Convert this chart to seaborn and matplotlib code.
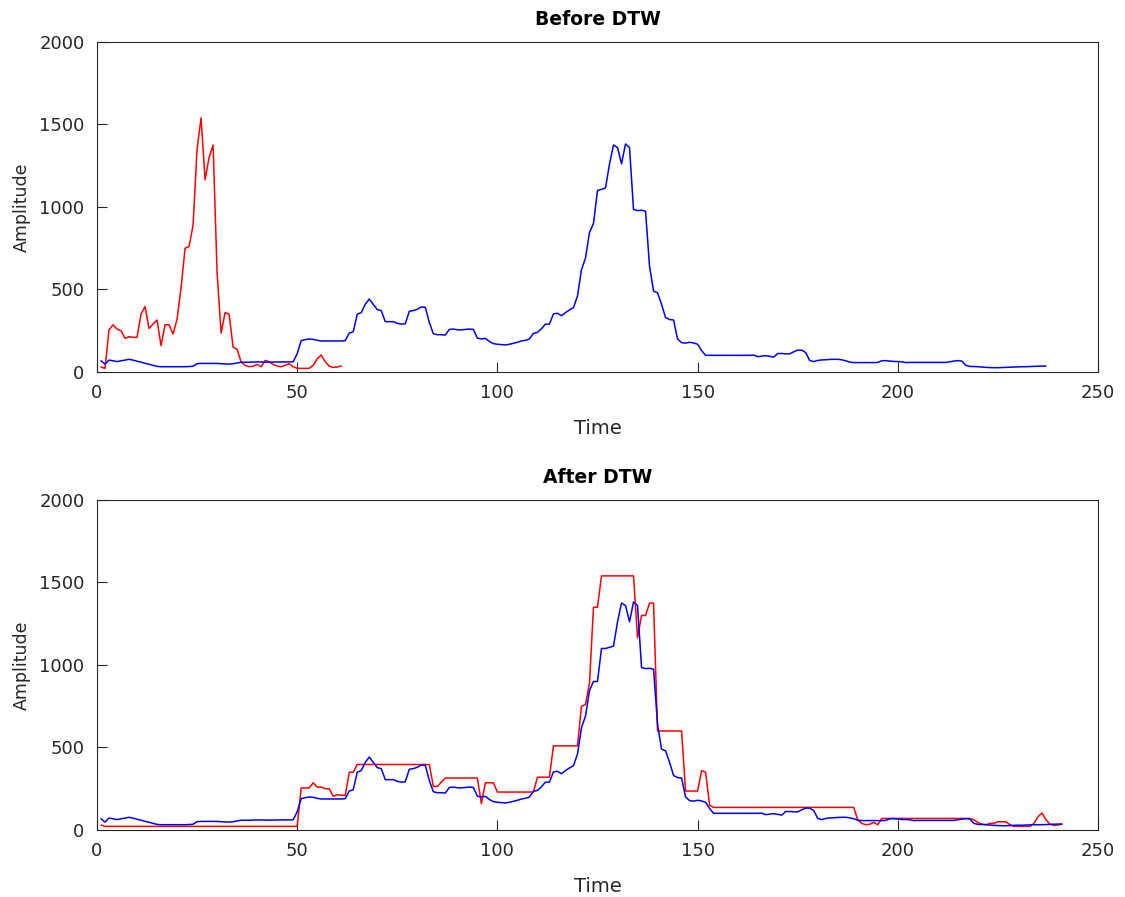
import numpy as np
import matplotlib
matplotlib.use("Agg")
import matplotlib.pyplot as plt
import seaborn as sns

# Query signal (red) and reference signal (blue), one sample per time step
red_signal = [
    30, 22, 255, 286, 260, 250, 204, 214, 210, 210,
    350, 397, 264, 290, 315, 160, 286, 286, 230, 320,
    510, 750, 760, 890, 1350, 1540, 1165, 1300, 1375, 600,
    236, 360, 350, 150, 137, 60, 40, 32, 35, 46,
    32, 70, 62, 45, 36, 32, 40, 50, 32, 22,
    22, 22, 22, 40, 80, 103, 62, 35, 28, 30,
    36,
]

blue_signal = [
    68, 48, 72, 68, 63, 68, 72, 77, 72, 65,
    60, 52, 47, 40, 34, 32, 32, 32, 32, 32,
    32, 32, 33, 35, 50, 52, 52, 52, 52, 52,
    50, 49, 48, 50, 55, 59, 59, 59, 60, 61,
    61, 60, 60, 60, 61, 61, 61, 61, 62, 110,
    190, 196, 200, 198, 192, 188, 188, 188, 188, 188,
    188, 190, 236, 244, 350, 360, 410, 442, 410, 378,
    372, 305, 305, 305, 295, 290, 292, 368, 372, 380,
    394, 392, 300, 232, 226, 226, 224, 258, 260, 256,
    255, 258, 260, 258, 205, 200, 204, 185, 172, 168,
    166, 164, 168, 174, 180, 188, 192, 200, 234, 240,
    262, 290, 290, 352, 356, 341, 360, 376, 390, 460,
    620, 690, 845, 900, 1100, 1107, 1115, 1260, 1376, 1360,
    1262, 1382, 1360, 985, 978, 980, 975, 640, 490, 480,
    410, 330, 318, 315, 200, 178, 175, 180, 176, 168,
    130, 101, 101, 101, 101, 101, 101, 101, 101, 101,
    101, 101, 101, 102, 93, 96, 99, 95, 90, 112,
    112, 110, 110, 122, 133, 132, 118, 70, 63, 70,
    73, 74, 76, 77, 77, 74, 68, 60, 57, 57,
    57, 57, 57, 57, 58, 68, 69, 66, 64, 63,
    62, 57, 58, 58, 58, 58, 58, 58, 58, 58,
    58, 58, 62, 66, 69, 66, 40, 34, 33, 32,
    30, 28, 27, 26, 26, 27, 28, 29, 30, 31,
    32, 32, 33, 34, 35, 36, 36,
]

# DTW warping path, stored as how many times each sample is repeated
red_repeats = [
    1, 49, 3, 1, 2, 2, 1, 1, 1, 1,
    2, 19, 2, 1, 9, 1, 1, 2, 10, 4,
    7, 1, 1, 1, 2, 9, 1, 2, 2, 7,
    4, 1, 1, 1, 36, 1, 1, 1, 1, 1,
    1, 23, 1, 1, 1, 1, 2, 3, 1, 2,
    1, 1, 1, 1, 1, 1, 1, 1, 1, 1,
    1,
]
blue_repeats = [1] * len(blue_signal)
for idx in (124, 125, 228, 232):  # 1-based samples held for two steps
    blue_repeats[idx - 1] = 2

x_ticks = [0, 50, 100, 150, 200, 250]
y_ticks = [0, 500, 1000, 1500, 2000]

red = np.array(red_signal, float)
blue = np.array(blue_signal, float)
red_warped = np.repeat(red, red_repeats)
blue_warped = np.repeat(blue, blue_repeats)

sns.set_theme(style="white")
plt.rcParams["font.family"] = ["DejaVu Sans"]
axis_col = "#262626"

fig = plt.figure(figsize=(11.25, 8.97), dpi=100)
ax_top = fig.add_axes([0.0862, 0.5853, 0.8898, 0.3679])
ax_bot = fig.add_axes([0.0862, 0.0747, 0.8898, 0.3679])

panels = [
    (ax_top, "Before DTW", red, blue),
    (ax_bot, "After DTW", red_warped, blue_warped),
]

for ax, title, r, b in panels:
    sns.lineplot(x=np.arange(1, len(r) + 1), y=r, ax=ax, color=(1, 0, 0), linewidth=1.1)
    sns.lineplot(x=np.arange(1, len(b) + 1), y=b, ax=ax, color=(0, 0, 1), linewidth=1.1)
    ax.set_xlim(0, 250)
    ax.set_ylim(0, 2000)
    ax.set_xticks(x_ticks)
    ax.set_yticks(y_ticks)
    ax.tick_params(axis="both", direction="in", length=7, width=0.8,
                   colors=axis_col, labelsize=13,
                   bottom=True, left=True, top=False, right=False)
    ax.tick_params(axis="x", pad=9)
    ax.tick_params(axis="y", pad=9)
    for sp in ax.spines.values():
        sp.set_color(axis_col)
        sp.set_linewidth(0.8)
    ax.set_xlabel("Time", fontsize=14, color=axis_col, labelpad=12)
    ax.set_ylabel("Amplitude", fontsize=12.5, color=axis_col, labelpad=6)
    ax.set_title(title, fontsize=13.5, fontweight="bold", color="black", pad=12)

fig.savefig("out.png", dpi=100)
